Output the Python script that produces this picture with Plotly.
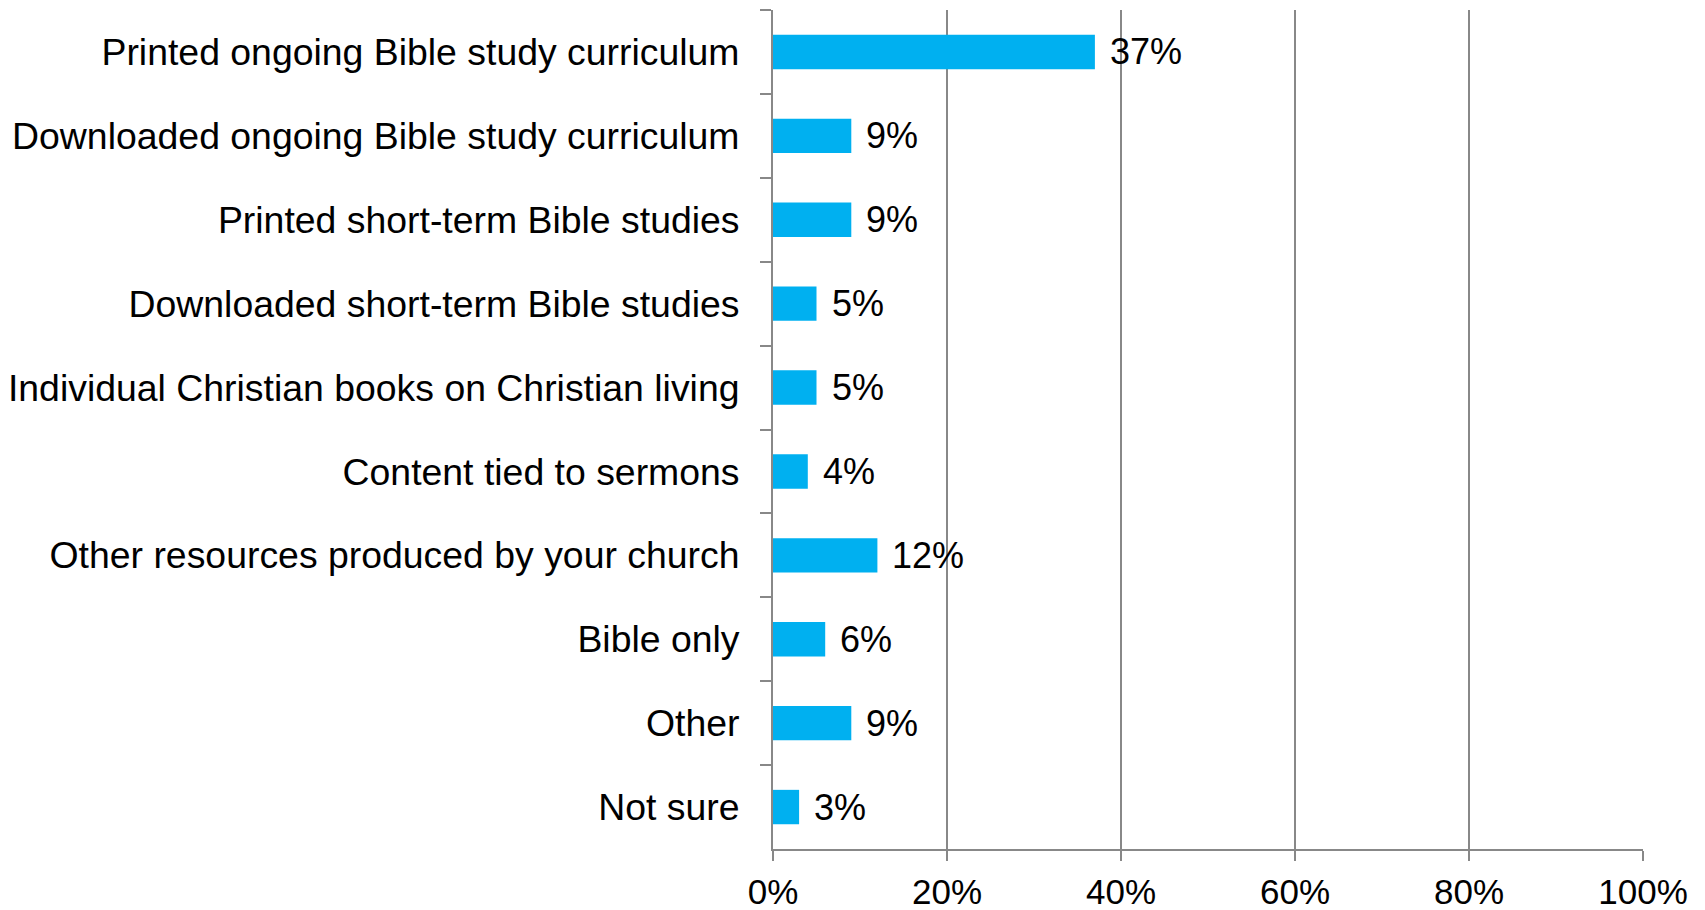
import plotly.graph_objects as go

categories = [
    "Printed ongoing Bible study curriculum",
    "Downloaded ongoing Bible study curriculum",
    "Printed short-term Bible studies",
    "Downloaded short-term Bible studies",
    "Individual Christian books on Christian living",
    "Content tied to sermons",
    "Other resources produced by your church",
    "Bible only",
    "Other",
    "Not sure",
]
values = [0.37, 0.09, 0.09, 0.05, 0.05, 0.04, 0.12, 0.06, 0.09, 0.03]
x_tickvals = [0, 0.2, 0.4, 0.6, 0.8, 1.0]
x_ticktext = ["0%", "20%", "40%", "60%", "80%", "100%"]

FONT = "Liberation Sans, Arial, sans-serif"
GRID = "#888888"

fig = go.Figure()
fig.add_trace(go.Bar(
    y=categories,
    x=values,
    orientation="h",
    marker=dict(color="#00B0F0", line=dict(width=0)),
    hoverinfo="skip",
))

for c, v in zip(categories, values):
    fig.add_annotation(
        x=v, y=c, xref="x", yref="y",
        text=f"{round(v*100)}%",
        showarrow=False, xanchor="left", yanchor="middle",
        xshift=13,
        font=dict(family=FONT, size=36, color="#000000"),
    )

fig.update_layout(
    width=1705, height=910,
    margin=dict(l=773, r=62, t=10, b=61),
    paper_bgcolor="white", plot_bgcolor="white",
    bargap=0.59,
    showlegend=False,
    font=dict(family=FONT, color="#000000"),
)
fig.update_xaxes(
    range=[0, 1.0],
    tickvals=x_tickvals, ticktext=x_ticktext,
    showgrid=True, gridcolor=GRID, gridwidth=2,
    showline=True, linecolor=GRID, linewidth=2,
    ticks="outside", ticklen=10, tickwidth=2, tickcolor=GRID,
    tickfont=dict(family=FONT, size=35, color="#000000"),
    zeroline=False,
    ticklabelstandoff=1,
    automargin=False,
)
fig.update_yaxes(
    autorange="reversed",
    type="category",
    showgrid=False,
    showline=True, linecolor=GRID, linewidth=2,
    ticks="outside", ticklen=11, tickwidth=2, tickcolor=GRID,
    tickson="boundaries",
    tickfont=dict(family=FONT, size=37.4, color="#000000"),
    ticklabelstandoff=24,
    automargin=False,
)

fig.write_html(
    "out.html",
    config={"displayModeBar": False},
    post_script="document.body.style.margin='0';document.body.style.overflow='hidden';",
)
